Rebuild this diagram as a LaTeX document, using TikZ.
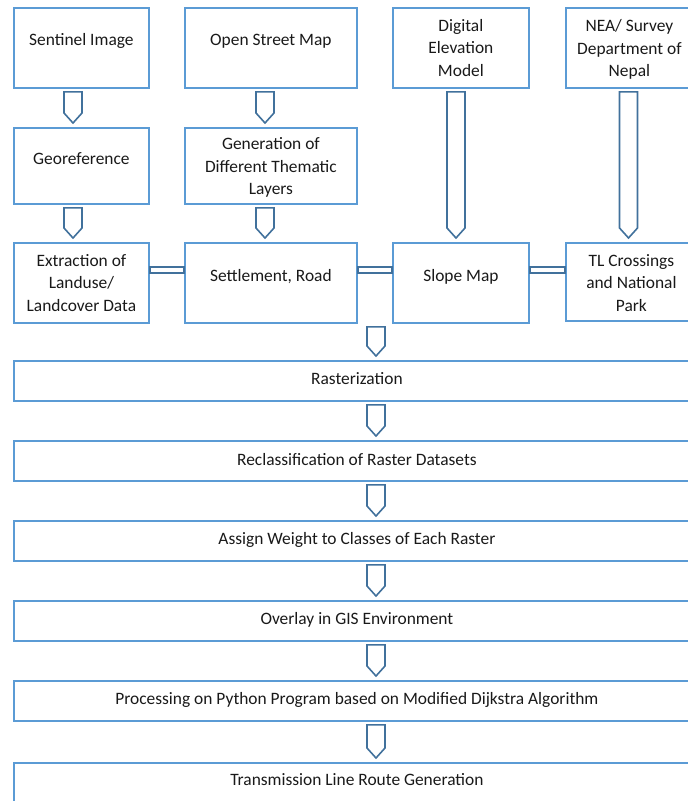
\documentclass[tikz,border=0pt]{standalone}
\usepackage{fontspec}
\setmainfont{Carlito}
\usetikzlibrary{calc}
\definecolor{boxblue}{HTML}{5B9BD5}
\definecolor{arrblue}{HTML}{41719C}
\tikzset{
  box/.style={draw=boxblue, line width=1.8pt, inner sep=0pt, anchor=north west},
  txt/.style={font=\fontsize{17.4}{22.8}\selectfont, align=center, inner sep=0pt, text=black!90},
  wtxt/.style={font=\fontsize{17.4}{20}\selectfont, text=black!90},
  barr/.style={draw=arrblue, line width=1.6pt, fill=white, line join=miter},
  link/.style={draw=arrblue, line width=1.4pt, fill=white},
}
% down block arrow from node #1 to node #2 at pixel x #3
\newcommand\blockarr[3]{%
  \draw[barr] let \p1=(#1.south), \p2=(#2.north) in
    (#3pt-9pt,\y1-3pt) -- (#3pt+9pt,\y1-3pt) -- (#3pt+9pt,\y2+14pt) --
    (#3pt,\y2+4pt) -- (#3pt-9pt,\y2+14pt) -- cycle;}
% horizontal double link between node #1 and node #2
\newcommand\hlink[2]{%
  \draw[link] ($(#1.north east)+(0,25)$) rectangle ($(#2.north west)+(0,31)$);}
\begin{document}
\begin{tikzpicture}[x=1pt,y=-1pt]
\useasboundingbox (0,0) rectangle (688,801);
\clip (0,0) rectangle (688,801);
% top row
\node[box, minimum width=135pt, minimum height=80pt] (sent) at (13,7) {};
\node[txt] (sentT) at ($(sent.center)+(0,-7)$) {Sentinel Image};
\node[box, minimum width=172pt, minimum height=80pt] (osm) at (184,7) {};
\node[txt] (osmT) at ($(osm.center)+(0,-7)$) {Open Street Map};
\node[box, minimum width=136pt, minimum height=80pt] (dem) at (392,7) {};
\node[txt] (demT) at (dem.center) {Digital\\Elevation\\Model};
\node[box, minimum width=127pt, minimum height=80pt] (nea) at (565,7) {};
\node[txt] (neaT) at ($(nea.center)+(0,1.5)$) {NEA/ Survey\\Department of\\Nepal};
% second row
\node[box, minimum width=135pt, minimum height=76pt] (geo) at (13,127) {};
\node[txt] (geoT) at ($(geo.center)+(0,-7)$) {Georeference};
\node[box, minimum width=172pt, minimum height=76pt] (gen) at (184,127) {};
\node[txt] (genT) at ($(gen.center)+(0,1.5)$) {Generation of\\Different Thematic\\Layers};
% third row
\node[box, minimum width=135pt, minimum height=80pt] (ext) at (13,242) {};
\node[txt] (extT) at (ext.center) {Extraction of\\Landuse/\\Landcover Data};
\node[box, minimum width=172pt, minimum height=80pt] (set) at (184,242) {};
\node[txt] (setT) at ($(set.center)+(0,-6)$) {Settlement, Road};
\node[box, minimum width=136pt, minimum height=80pt] (slope) at (392,242) {};
\node[txt] (slopeT) at ($(slope.center)+(0,-6)$) {Slope Map};
\node[box, minimum width=131pt, minimum height=78pt] (tl) at (565,242) {};
\node[txt] (tlT) at ($(tl.center)+(0,1)$) {TL Crossings\\and National\\Park};
% wide boxes
\node[box, minimum width=690pt, minimum height=40pt] (ras) at (13,360) {};
\node[wtxt] at ($(ras.center)+(-2,-2)$) {Rasterization};
\node[box, minimum width=690pt, minimum height=40pt] (rec) at (13,440) {};
\node[wtxt] at ($(rec.center)+(-2,-1)$) {Reclassification of Raster Datasets};
\node[box, minimum width=690pt, minimum height=40pt] (asg) at (13,520) {};
\node[wtxt] at ($(asg.center)+(-2,-1)$) {Assign Weight to Classes of Each Raster};
\node[box, minimum width=690pt, minimum height=40pt] (ovl) at (13,600) {};
\node[wtxt] at ($(ovl.center)+(-2,-1)$) {Overlay in GIS Environment};
\node[box, minimum width=690pt, minimum height=40pt] (pro) at (13,680) {};
\node[wtxt] at ($(pro.center)+(-2,-1)$) {Processing on Python Program based on Modified Dijkstra Algorithm};
\node[box, minimum width=690pt, minimum height=45pt] (trl) at (13,762) {};
\node[wtxt] at ($(trl.north)+(-2,18)$) {Transmission Line Route Generation};
% block arrows
\blockarr{sent}{geo}{73}
\blockarr{geo}{ext}{73}
\blockarr{osm}{gen}{265}
\blockarr{gen}{set}{265}
\blockarr{dem}{slope}{456}
\blockarr{nea}{tl}{628.5}
\blockarr{set}{ras}{376}
\blockarr{ras}{rec}{376}
\blockarr{rec}{asg}{376}
\blockarr{asg}{ovl}{376}
\blockarr{ovl}{pro}{376}
\blockarr{pro}{trl}{376}
% horizontal links
\hlink{ext}{set}
\hlink{set}{slope}
\hlink{slope}{tl}
\end{tikzpicture}
\end{document}
